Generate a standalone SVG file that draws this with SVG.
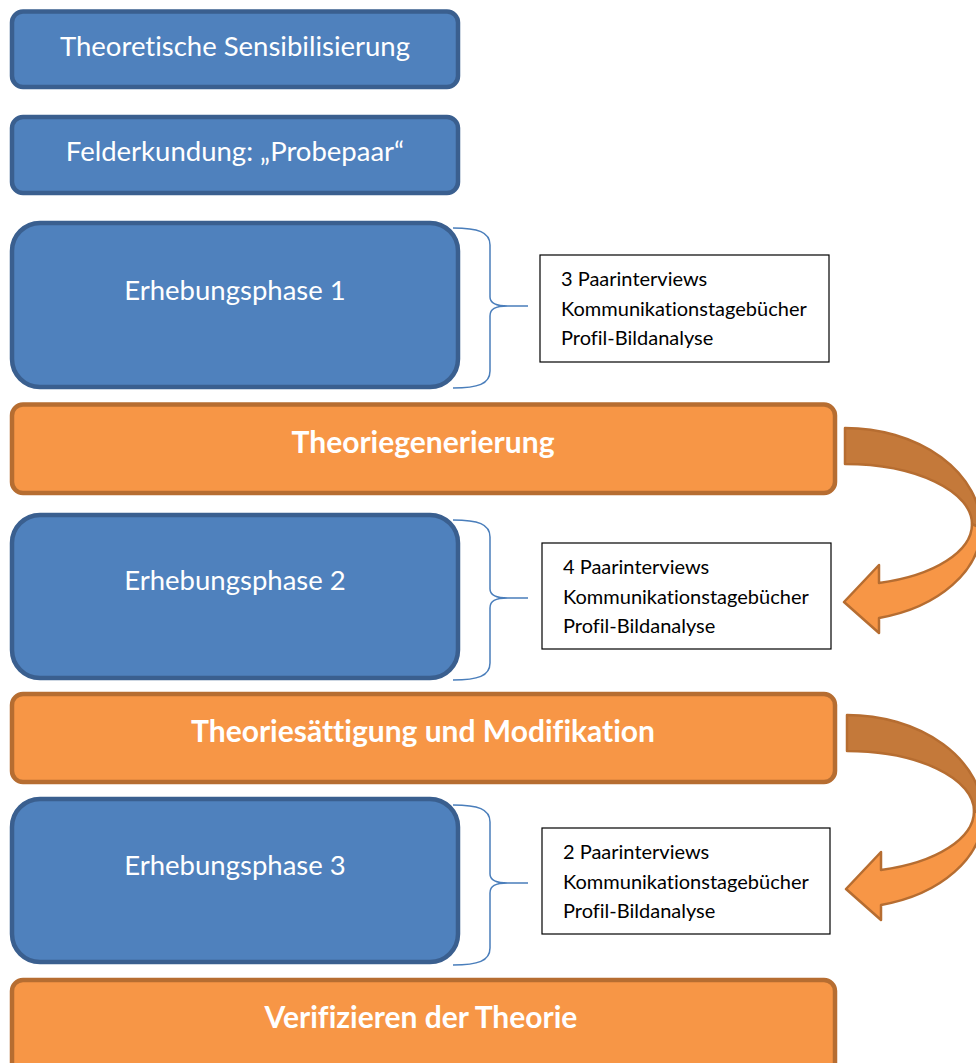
<svg xmlns="http://www.w3.org/2000/svg" width="976" height="1063" viewBox="0 0 976 1063">
<style>
text{font-variant-ligatures:none}
.blue{fill:#4F81BD;stroke:#3A5F8F;stroke-width:4.5}
.orange{fill:#F79646;stroke:#B66D31;stroke-width:4.5}
.bt{font-family:Lato,"Liberation Sans",sans-serif;font-size:27.5px;fill:#FFFFFF;text-anchor:middle}
.ot{font-family:Lato,"Liberation Sans",sans-serif;font-size:30px;font-weight:bold;fill:#FFFFFF;text-anchor:middle}
.note{fill:#FFFFFF;stroke:#000000;stroke-width:1.2}
.nt{font-family:Lato,"Liberation Sans",sans-serif;font-size:20px;fill:#000000}
.brace{fill:none;stroke:#4A7EBB;stroke-width:1.5}
.adark{fill:#C4793A;stroke:#B66D31;stroke-width:2.5;stroke-linejoin:round}
.alight{fill:#F79646;stroke:#B66D31;stroke-width:2.5;stroke-linejoin:round}
</style>
<defs>
<g id="uturn">
<path class="adark" d="M845,428 A136,100 0 0 1 981,528 L972,524 A127,60 0 0 0 845,464 Z"/>
<path class="alight" d="M981,528 A136,93 0 0 1 879,618 L879,633 L844,602 L879,565 L879,583 A127,61 0 0 0 972,524 Z"/>
</g>
<path id="brc" class="brace" d="M453,0 C478,0 490,4 490,17 L490,69 C490,75 495,78 508,78 L528,78 M508,78 C495,78 490,81 490,88 L490,143 C490,156 478,160 453,160"/>
</defs>

<g id="n1">
<rect class="blue" x="12" y="11.5" width="446" height="75.5" rx="11"/>
<text class="bt" x="235" y="56">Theoretische Sensibilisierung</text>
</g>
<g id="n2">
<rect class="blue" x="12" y="117" width="446" height="76" rx="11"/>
<text class="bt" x="235" y="161">Felderkundung: „Probepaar“</text>
</g>
<g id="n3">
<rect class="blue" x="12" y="223" width="446" height="164" rx="28"/>
<text class="bt" x="235" y="300">Erhebungsphase 1</text>
</g>
<g id="n4">
<rect class="orange" x="12" y="404.5" width="823" height="88.5" rx="11"/>
<text class="ot" x="423" y="453">Theoriegenerierung</text>
</g>
<g id="n5">
<rect class="blue" x="12" y="515" width="446" height="163" rx="28"/>
<text class="bt" x="235" y="590">Erhebungsphase 2</text>
</g>
<g id="n6">
<rect class="orange" x="12" y="694" width="823" height="88" rx="11"/>
<text class="ot" x="423" y="742">Theoriesättigung und Modifikation</text>
</g>
<g id="n7">
<rect class="blue" x="12" y="799" width="446" height="163" rx="28"/>
<text class="bt" x="235" y="875">Erhebungsphase 3</text>
</g>
<g id="n8">
<rect class="orange" x="12" y="980" width="823" height="100" rx="11"/>
<text class="ot" x="421" y="1028">Verifizieren der Theorie</text>
</g>

<g id="note1">
<rect class="note" x="540" y="255" width="289" height="107"/>
<text class="nt" x="561" y="286">3 Paarinterviews</text>
<text class="nt" x="561" y="316">Kommunikationstagebücher</text>
<text class="nt" x="561" y="345">Profil-Bildanalyse</text>
</g>
<g id="note2">
<rect class="note" x="542" y="543" width="289" height="106"/>
<text class="nt" x="563" y="574">4 Paarinterviews</text>
<text class="nt" x="563" y="604">Kommunikationstagebücher</text>
<text class="nt" x="563" y="633">Profil-Bildanalyse</text>
</g>
<g id="note3">
<rect class="note" x="542" y="828" width="288" height="106"/>
<text class="nt" x="563" y="859">2 Paarinterviews</text>
<text class="nt" x="563" y="889">Kommunikationstagebücher</text>
<text class="nt" x="563" y="918">Profil-Bildanalyse</text>
</g>

<g id="connectors">
<use href="#brc" transform="translate(0,228)"/>
<use href="#brc" transform="translate(0,520)"/>
<use href="#brc" transform="translate(0,805)"/>
<use href="#uturn"/>
<use href="#uturn" transform="translate(2,287)"/>
</g>
</svg>
